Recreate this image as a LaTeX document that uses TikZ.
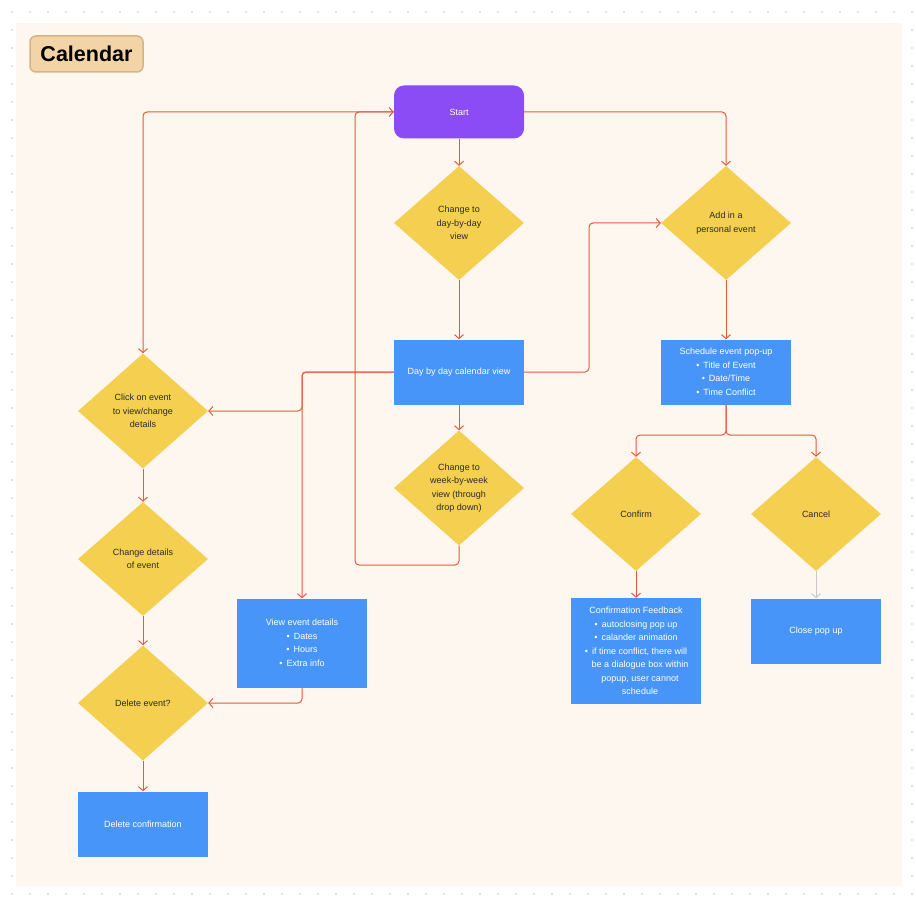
\documentclass[tikz,border=0pt]{standalone}
\usepackage{fontspec}
\setmainfont{Liberation Sans}
\usetikzlibrary{shapes.geometric,arrows.meta}
\definecolor{panel}{HTML}{FDF7F0}
\definecolor{purp}{HTML}{8B4CF6}
\definecolor{bluebox}{HTML}{4795F8}
\definecolor{yel}{HTML}{F5CF50}
\definecolor{lin}{HTML}{E8593C}
\definecolor{titfill}{HTML}{F3D4A6}
\definecolor{titdraw}{HTML}{D6B384}
\definecolor{dotc}{HTML}{C8C8C8}
\definecolor{dtext}{HTML}{2B2B2B}
\definecolor{greyl}{HTML}{C8C8C8}
\begin{document}
\begin{tikzpicture}[x=1pt,y=-1pt,
  every node/.style={font=\fontsize{9}{13.5}\selectfont},
  bbox/.style={rectangle,fill=bluebox,text=white,minimum width=130pt,inner sep=0pt,align=center},
  dec/.style={diamond,fill=yel,text=dtext,minimum width=130pt,minimum height=114pt,inner sep=0pt,align=center},
  arr/.style={draw=lin,line width=1pt,rounded corners=4pt,-{Straight Barb[length=4pt,width=9pt]}},
  garr/.style={draw=greyl,line width=1pt,-{Straight Barb[length=4pt,width=9pt]}}]
\useasboundingbox (0,0) rectangle (916,904);
\fill[white] (0,0) rectangle (916,904);
\foreach \i in {0,...,50}{\foreach \j in {0,...,50}{\fill[dotc] (12+18*\i,12+18*\j) circle (0.9pt);}}
\fill[panel] (16,23) rectangle (902,886);
\node[draw=titdraw,line width=1.5pt,fill=titfill,rounded corners=6pt,minimum width=113pt,minimum height=36pt,inner sep=0pt,font=\fontsize{21.5}{24}\selectfont\bfseries] (title) at (86.5,54) {Calendar};
% nodes
\node[rectangle,fill=purp,text=white,rounded corners=10pt,minimum width=130pt,minimum height=53pt,inner sep=0pt] (start) at (459,112) {Start};
\node[dec] (dayd) at (459,223) {Change to\\day-by-day\\view};
\node[bbox,minimum height=65pt] (daybox) at (459,372) {Day by day calendar view};
\node[dec,minimum height=115pt] (week) at (459,488) {Change to\\week-by-week\\view (through\\drop down)};
\node[dec] (add) at (726,223) {Add in a\\personal event};
\node[bbox,minimum height=65pt] (sched) at (726,372) {Schedule event pop-up\\•\hspace{4pt}Title of Event\\•\hspace{4pt}Date/Time\\•\hspace{4pt}Time Conflict};
\node[dec] (confirm) at (636,514) {Confirm};
\node[dec] (cancel) at (816,514) {Cancel};
\node[bbox,minimum height=106pt] (feedback) at (636,651) {Confirmation Feedback\\•\hspace{4pt}autoclosing pop up\\•\hspace{4pt}calander animation\\•\hspace{4pt}if time conflict, there will\\\hspace{8pt}be a dialogue box within\\\hspace{8pt}popup, user cannot\\\hspace{8pt}schedule};
\node[bbox,minimum height=65pt] (close) at (816,631) {Close pop up};
\node[dec,minimum height=115pt] (click) at (143,411) {Click on event\\to view/change\\details};
\node[dec] (change) at (143,559) {Change details\\of event};
\node[dec,minimum height=115pt] (delete) at (143,703) {Delete event?};
\node[bbox,minimum height=65pt] (delconf) at (143,824) {Delete confirmation};
\node[bbox,minimum height=89pt] (view) at (302,643) {View event details\\•\hspace{4pt}Dates\\•\hspace{4pt}Hours\\•\hspace{4pt}Extra info};
% helper coordinates
\coordinate (loopc) at (355,565);
\coordinate (j1) at (589,372);
\coordinate (j2) at (726,435);
\coordinate (j3) at (302,372);
% connectors
\draw[arr] (start.west) -| (click.north);
\draw[arr] (week.south) |- (loopc) |- (start.west);
\draw[arr] (start.south) -- (dayd.north);
\draw[arr] (dayd.south) -- (daybox.north);
\draw[arr] (daybox.south) -- (week.north);
\draw[arr] (start.east) -| (add.north);
\draw[arr] (daybox.east) -- (j1) |- (add.west);
\draw[arr] (add.south) -- (sched.north);
\draw[arr] (sched.south) -- (j2) -| (confirm.north);
\draw[arr] (sched.south) -- (j2) -| (cancel.north);
\draw[arr] (confirm.south) -- (feedback.north);
\draw[garr] (cancel.south) -- (close.north);
\draw[arr] (daybox.west) -- (j3) |- (click.east);
\draw[arr] (daybox.west) -| (view.north);
\draw[arr] (view.south) |- (delete.east);
\draw[arr] (click.south) -- (change.north);
\draw[arr] (change.south) -- (delete.north);
\draw[arr] (delete.south) -- (delconf.north);
\end{tikzpicture}
\end{document}
